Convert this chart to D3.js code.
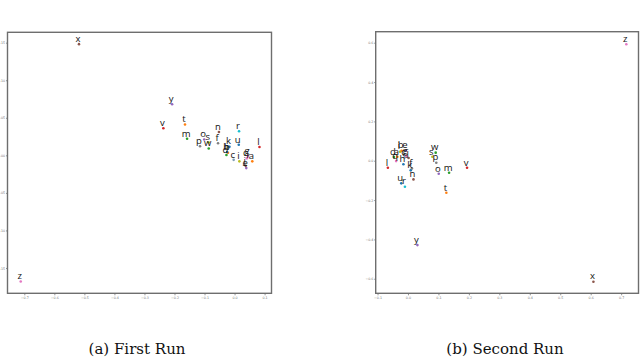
<!DOCTYPE html>
<html>
<head>
<meta charset="utf-8">
<script src="https://cdn.jsdelivr.net/npm/d3@7"></script>
<style>
  html, body { margin: 0; padding: 0; background: #fff; }
  svg { display: block; }
</style>
</head>
<body>
<svg id="chart" width="640" height="360"></svg>
<script>
// ---- data ----
const letters = ["a","b","c","d","e","f","g","h","i","j","k","l","m","n","o","p","q","r","s","t","u","v","w","x","y","z"];
const pointColors = ["#ff7f0e","#ff7f0e","#7f9fb4","#2ca02c","#9467bd","#7f7f7f","#e377c2","#1f77b4","#bcbd22","#8c564b",
                     "#1f77b4","#d62728","#2ca02c","#8c564b","#9467bd","#7f7f7f","#e377c2","#17becf","#bcbd22","#ff7f0e",
                     "#1f77b4","#d62728","#2ca02c","#8c564b","#9467bd","#e377c2"];
// First run coordinates
const run1X = [0.059,-0.022,-0.003,-0.027,0.039,-0.055,0.045,-0.025,0.016,0.037,
               -0.017,0.083,-0.158,-0.052,-0.101,-0.115,0.041,0.015,-0.086,-0.165,
               0.014,-0.237,-0.086,-0.518,-0.208,-0.712];
const run1Y = [-0.008,0.0035,-0.006,0.0005,-0.017,0.016,-0.001,0.0045,-0.008,-0.014,
               0.0115,0.011,0.022,0.031,0.021,0.012,-0.004,0.032,0.017,0.041,
               0.014,0.036,0.009,0.148,0.068,-0.168];
// Second run coordinates
const run2X = [-0.035,-0.021,-0.011,-0.046,-0.007,0.013,-0.006,-0.015,-0.026,0.002,
               0.009,-0.066,0.135,0.018,0.101,0.093,-0.039,-0.010,0.080,0.126,
               -0.022,0.194,0.091,0.609,0.031,0.717];
const run2Y = [0.020,0.051,0.017,0.019,0.051,-0.039,0.024,-0.018,0.046,0.014,
               -0.049,-0.036,-0.061,-0.095,-0.066,-0.010,-0.002,-0.132,0.020,-0.163,
               -0.115,-0.036,0.041,-0.615,-0.429,0.592];
const run1XTicks = [-0.7,-0.6,-0.5,-0.4,-0.3,-0.2,-0.1,0.0,0.1];
const run1YTicks = [0.15,0.10,0.05,0.00,-0.05,-0.10,-0.15];
const run2XTicks = [-0.1,0.0,0.1,0.2,0.3,0.4,0.5,0.6,0.7];
const run2YTicks = [0.6,0.4,0.2,0.0,-0.2,-0.4,-0.6];
const captions = ["(a) First Run", "(b) Second Run"];

// ---- drawing ----
const svg = d3.select("#chart");

const panels = [
  { xs: run1X, ys: run1Y, xt: run1XTicks, yt: run1YTicks, xf: d3.format(".1f"), yf: d3.format(".2f"),
    frame: {x0: 7.5, x1: 271.5, y0: 32.3, y1: 293.3},
    xDom: [-0.756, 0.123], yDom: [-0.1837, 0.1638], cap: captions[0], capX: 137 },
  { xs: run2X, ys: run2Y, xt: run2XTicks, yt: run2YTicks, xf: d3.format(".1f"), yf: d3.format(".1f"),
    frame: {x0: 375.7, x1: 638.5, y0: 31.7, y1: 293.3},
    xDom: [-0.106, 0.757], yDom: [-0.674, 0.656], cap: captions[1], capX: 505 }
];

panels.forEach(p => {
  const f = p.frame;
  const x = d3.scaleLinear().domain(p.xDom).range([f.x0, f.x1]);
  const y = d3.scaleLinear().domain(p.yDom).range([f.y1, f.y0]);
  const g = svg.append("g");

  // axes
  const xAxis = d3.axisBottom(x).tickValues(p.xt).tickFormat(p.xf).tickSize(2).tickPadding(1.5);
  const yAxis = d3.axisLeft(y).tickValues(p.yt).tickFormat(p.yf).tickSize(1.5).tickPadding(0.8);
  const gx = g.append("g").attr("transform", `translate(0,${f.y1})`).call(xAxis);
  const gy = g.append("g").attr("transform", `translate(${f.x0},0)`).call(yAxis);
  [gx, gy].forEach(a => {
    a.select(".domain").remove();
    a.selectAll(".tick line").attr("stroke", "#777").attr("stroke-width", 0.8);
    a.selectAll(".tick text").attr("fill", "#777").attr("font-size", 3.3)
      .attr("font-family", "DejaVu Sans, sans-serif");
  });

  // frame
  g.append("rect")
    .attr("x", f.x0).attr("y", f.y0)
    .attr("width", f.x1 - f.x0).attr("height", f.y1 - f.y0)
    .attr("fill", "none").attr("stroke", "#6e6e6e").attr("stroke-width", 1.4);

  const pts = letters.map((l, i) => ({ l, c: pointColors[i], x: p.xs[i], y: p.ys[i] }));

  g.selectAll("circle.pt").data(pts).enter().append("circle")
    .attr("class", "pt")
    .attr("cx", d => x(d.x)).attr("cy", d => y(d.y))
    .attr("r", 1.3).attr("fill", d => d.c);

  g.selectAll("text.lbl").data(pts).enter().append("text")
    .attr("class", "lbl")
    .attr("x", d => x(d.x) - 1).attr("y", d => y(d.y) - 2.2)
    .attr("text-anchor", "middle")
    .attr("font-family", "Open Sans, sans-serif")
    .attr("font-size", 9.5)
    .attr("fill", "#111")
    .text(d => d.l);

  svg.append("text")
    .attr("x", p.capX).attr("y", 354)
    .attr("text-anchor", "middle")
    .attr("font-family", "DejaVu Serif, serif")
    .attr("font-size", 15)
    .attr("fill", "#111")
    .text(p.cap);
});
</script>
</body>
</html>
